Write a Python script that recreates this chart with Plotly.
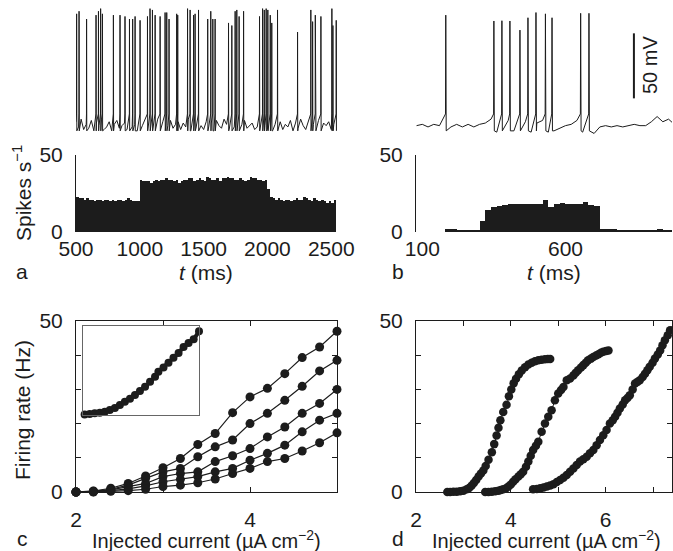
import plotly.graph_objects as go

W, H = 673, 551
FONT = "Liberation Sans, Arial, Helvetica, sans-serif"
INK = "#1c1c1c"

# ---- panel a: voltage trace (ms, mV) ----
trace_a_grid_t = list(range(500, 2541, 20))
trace_a_grid_v = [
    -64, -68, -62, -70, -66, -69, -63, -71, -65, -67, -62, -70, -68, -64, -71, -66, -63, -69, -67, -65,
    -70, -62, -68, -66, -71, -64, -67, -63, -69, -65, -70, -66, -62, -68, -64, -71, -67, -63, -69, -66,
    -64, -70, -65, -68, -62, -71, -66, -69, -63, -67, -70, -64, -68, -65, -71, -63, -67, -69, -62, -66,
    -70, -65, -68, -64, -71, -66, -63, -69, -67, -65, -70, -68, -66, -69, -67, -70, -68, -71, -66, -69,
    -64, -70, -66, -68, -63, -71, -65, -69, -62, -67, -70, -64, -68, -66, -71, -63, -69, -65, -67, -64,
    -70, -66, -68,
]
spikes_a_t = [505, 524, 583, 657, 676, 693, 707, 793, 845, 884, 919, 944, 963, 1002, 1060,
              1080, 1099, 1120, 1159, 1198, 1211, 1229, 1289, 1297, 1374, 1394, 1421, 1433,
              1460, 1532, 1556, 1572, 1590, 1695, 1721, 1747, 1760, 1778, 1813, 1938, 1962,
              1975, 1990, 2003, 2022, 2034, 2079, 2236, 2340, 2354, 2375, 2419, 2505, 2513, 2539]
spikes_a_peak = [19, 21, 15, 18, 21, 23, 19, 18, 18, 17, 15, 15, 17, 14, 17, 23, 22, 18, 17,
                 20, 20, 15, 19, 18, 23, 22, 18, 19, 22, 15, 21, 15, 15, 12, 10, 21, 22, 17,
                 21, 17, 23, 22, 23, 22, 18, 12, 22, 5, 22, 13, 18, 17, 23, 10, 14]

# ---- panel b: voltage trace ----
trace_b_grid_t = list(range(80, 981, 20))
trace_b_grid_v = [
    -67, -66, -68, -66, -67, -65, -68, -66, -68, -66,
    -68, -66, -65, -62, -72, -65, -63, -71, -65, -64,
    -72, -65, -63, -72, -71, -69, -67, -66, -63, -72,
    -65, -73, -68, -67, -68, -67, -68, -67, -66, -67,
    -67, -64, -60, -64, -62, -66,
]
spikes_b_t = [182, 350, 378, 406, 441, 469, 497, 530, 553, 653, 682]
spikes_b_peak = [18, 13.5, 13.7, 13.5, 6.5, 16, 20, 19, 16, 19.4, 19.4]

# ---- histograms (20 ms bins, spikes/s) ----
hist_a_start = list(range(500, 2540, 20))
hist_a_rate = [
    23, 22, 22, 21, 22, 21, 21, 20, 21, 21, 20, 21, 21, 20, 21, 20, 21, 21, 20, 21, 22, 21, 20, 20, 20,
    34, 33, 33, 33, 32, 33, 34, 33, 34, 34, 35, 34, 34, 33, 34, 32, 33, 34, 34, 35, 35, 33, 34, 35, 34,
    33, 36, 35, 34, 34, 35, 33, 35, 35, 36, 35, 35, 34, 34, 35, 34, 33, 34, 36, 35, 35, 34, 34, 33, 34,
    28, 23, 22, 21, 22, 21, 20, 21, 21, 20, 21, 22, 21, 21, 23, 22, 21, 20, 22, 21, 20, 21, 20, 19, 20,
    19, 21,
]
hist_b_start = list(range(80, 980, 20))
hist_b_rate = [
    0, 0, 0, 0, 0, 1.7, 1.7, 1.5, 1.2, 1.1, 1.1,
    7, 14, 16.5, 17, 17.5, 18, 18.5, 18.5, 18, 18, 18.5, 20.5, 16.5, 18.5, 19, 18.5, 18.5, 18, 19.5, 17.5, 17,
    2, 1.8, 1.7, 1.5, 1.3, 1.3, 1.2, 1.3, 1.5, 1.2, 2, 1.3, 1,
]

# ---- panel c: f-I curves ----
current_c = [2.0, 2.2, 2.4, 2.6, 2.8, 3.0, 3.2, 3.4, 3.6, 3.8, 4.0, 4.2, 4.4, 4.6, 4.8, 5.0]
rate_c1 = [0, 0.3, 1.1, 2.5, 4.7, 7.1, 9.8, 13.9, 17.1, 23.2, 27.8, 30.3, 34.6, 39.3, 42.4, 47.0]
rate_c2 = [0, 0.2, 0.8, 2.0, 4.0, 5.9, 6.9, 10.3, 13.2, 15.2, 20.0, 23.0, 26.8, 30.9, 35.4, 38.5]
rate_c3 = [0, 0.1, 0.6, 1.6, 2.5, 4.5, 5.4, 5.9, 8.9, 10.6, 12.7, 16.1, 19.0, 23.0, 25.9, 30.0]
rate_c4 = [0, 0.1, 0.4, 0.9, 1.8, 3.0, 3.7, 4.5, 5.9, 6.9, 9.3, 11.3, 13.7, 17.6, 21.0, 23.0]
rate_c5 = [0, 0, 0.2, 0.4, 0.8, 1.6, 2.0, 2.7, 3.8, 5.4, 6.9, 8.9, 9.8, 12.0, 14.4, 17.3]

# inset (normalised units)
inset_x = [0.014, 0.058, 0.101, 0.145, 0.188, 0.231, 0.275, 0.318, 0.361, 0.405, 0.448, 0.491,
           0.535, 0.578, 0.621, 0.650, 0.694, 0.737, 0.780, 0.824, 0.867, 0.910, 0.954, 1.0]
inset_y = [0.007, 0.011, 0.019, 0.026, 0.037, 0.056, 0.078, 0.112, 0.149, 0.183, 0.224, 0.269,
           0.317, 0.373, 0.429, 0.485, 0.534, 0.586, 0.642, 0.698, 0.765, 0.810, 0.851, 0.940]

# ---- panel d ----
current_d1 = [2.66, 2.72, 2.79, 2.86, 2.93, 3.00, 3.07, 3.12, 3.17, 3.22, 3.27, 3.32, 3.37, 3.42,
              3.47, 3.53, 3.60, 3.65, 3.70, 3.74, 3.78, 3.84, 3.91, 3.96, 4.01, 4.06, 4.11, 4.17,
              4.23, 4.30, 4.37, 4.44, 4.51, 4.58, 4.65, 4.72, 4.78, 4.83]
rate_d1 = [0, 0, 0.1, 0.1, 0.2, 0.4, 0.8, 1.2, 1.8, 2.6, 3.5, 4.5, 5.4, 6.3,
           7.6, 9.4, 11.6, 14.0, 16.5, 18.8, 21.0, 23.4, 25.5, 28.0, 30.0, 31.8, 33.1, 34.4,
           35.5, 36.5, 37.3, 37.8, 38.2, 38.5, 38.7, 38.8, 38.9, 38.9]
current_d2 = [3.46, 3.53, 3.60, 3.67, 3.74, 3.79, 3.84, 3.90, 3.95, 4.00, 4.05, 4.10, 4.16, 4.21,
              4.26, 4.32, 4.37, 4.42, 4.47, 4.53, 4.58, 4.65, 4.72, 4.79, 4.86, 4.93, 5.00, 5.06,
              5.11, 5.18, 5.25, 5.32, 5.37, 5.42, 5.48, 5.53, 5.58, 5.63, 5.69, 5.74, 5.80, 5.85,
              5.90, 5.95, 6.01, 6.06]
rate_d2 = [0, 0, 0.1, 0.2, 0.4, 0.6, 0.8, 1.1, 1.6, 2.2, 3.0, 3.7, 4.5, 5.2,
           5.9, 7.4, 8.9, 10.6, 12.3, 13.5, 14.7, 17.6, 20.0, 22.0, 23.9, 26.8, 28.8, 29.8,
           30.7, 32.7, 33.2, 34.1, 34.9, 35.6, 36.4, 37.1, 37.8, 38.5, 39.0, 39.5, 39.9, 40.3,
           40.7, 41.0, 41.2, 41.4]
current_d3 = [4.47, 4.55, 4.62, 4.69, 4.76, 4.83, 4.90, 4.97, 5.04, 5.11, 5.18, 5.25, 5.32, 5.39,
              5.46, 5.53, 5.60, 5.67, 5.74, 5.81, 5.88, 5.95, 6.02, 6.09, 6.15, 6.20, 6.25, 6.30,
              6.36, 6.41, 6.46, 6.51, 6.57, 6.62, 6.67, 6.72, 6.78, 6.83, 6.88, 6.93, 6.99, 7.04,
              7.10, 7.15, 7.20, 7.25, 7.31, 7.36, 7.43]
rate_d3 = [0.8, 0.9, 1.1, 1.3, 1.6, 1.9, 2.3, 2.9, 3.5, 4.2, 5.0, 5.9, 6.9, 7.9,
           8.9, 9.6, 10.3, 11.3, 12.3, 13.7, 15.2, 16.6, 18.1, 20.0, 21.0, 22.0, 23.2, 24.4,
           25.6, 26.8, 27.5, 28.3, 30.0, 31.7, 32.2, 32.7, 33.6, 34.6, 35.6, 36.6, 37.8, 39.0,
           40.2, 41.4, 42.9, 44.4, 45.8, 47.3, 49.2]

SPIKE_ONSET = -58
SPIKE_RESET = -71
SCALE_BAR_T = 839
SCALE_BAR_BOTTOM = -46
SCALE_BAR_MV = 50


def px(x):
    return x / W


def py(y):
    return 1 - y / H


def build_trace(grid_t, grid_v, spike_t, spike_v):
    pts = [(t, v) for t, v in zip(grid_t, grid_v) if all(abs(t - s) > 2.5 for s in spike_t)]
    for s, v in zip(spike_t, spike_v):
        pts += [(s - 1.0, SPIKE_ONSET), (s, v), (s + 1.5, SPIKE_RESET)]
    pts.sort()
    return [p[0] for p in pts], [p[1] for p in pts]


fig = go.Figure()

ta, va = build_trace(trace_a_grid_t, trace_a_grid_v, spikes_a_t, spikes_a_peak)
tb, vb = build_trace(trace_b_grid_t, trace_b_grid_v, spikes_b_t, spikes_b_peak)
fig.add_trace(go.Scatter(x=ta, y=va, mode="lines", line=dict(color=INK, width=1), xaxis="x", yaxis="y"))
fig.add_trace(go.Scatter(x=tb, y=vb, mode="lines", line=dict(color=INK, width=1), xaxis="x2", yaxis="y2"))

fig.add_trace(go.Bar(x=[s + 10 for s in hist_a_start], y=hist_a_rate, width=20,
                     marker=dict(color=INK, line=dict(width=0)), xaxis="x3", yaxis="y3"))
fig.add_trace(go.Bar(x=[s + 10 for s in hist_b_start], y=hist_b_rate, width=20,
                     marker=dict(color=INK, line=dict(width=0)), xaxis="x4", yaxis="y4"))

for rates in [rate_c1, rate_c2, rate_c3, rate_c4, rate_c5]:
    fig.add_trace(go.Scatter(x=current_c, y=rates, mode="lines+markers", cliponaxis=False,
                             line=dict(color=INK, width=1.2), marker=dict(color=INK, size=9),
                             xaxis="x5", yaxis="y5"))

for xs, ys in [(current_d1, rate_d1), (current_d2, rate_d2), (current_d3, rate_d3)]:
    fig.add_trace(go.Scatter(x=xs, y=ys, mode="lines+markers", cliponaxis=False,
                             line=dict(color=INK, width=1), marker=dict(color=INK, size=8.5),
                             xaxis="x6", yaxis="y6"))

fig.add_trace(go.Scatter(x=inset_x, y=inset_y, mode="lines+markers", cliponaxis=False,
                         line=dict(color=INK, width=4), marker=dict(color=INK, size=8),
                         xaxis="x7", yaxis="y7"))

hidden = dict(visible=False)
frame = dict(showline=True, linecolor=INK, linewidth=1, showgrid=False, zeroline=False,
             ticks="inside", ticklen=5, tickcolor=INK)
bare_x = dict(ticks="", showline=False, showgrid=False, zeroline=False, ticklabelstandoff=2)
box = dict(showline=True, mirror=True, linecolor="#666", linewidth=1, showgrid=False,
           zeroline=False, showticklabels=False, ticks="", range=[0, 1])
trace_rows = [py(138), py(5)]
hist_rows = [py(232), py(155)]
fi_rows = [py(492), py(321)]
left_cols = [px(76), px(337)]
right_cols = [px(416), px(672)]
ticks_50 = [0, 10, 20, 30, 40, 50]
text_50 = ["0", "", "", "", "", "50"]

fig.update_layout(
    width=W, height=H, margin=dict(l=0, r=0, t=0, b=0, autoexpand=False), autosize=False,
    paper_bgcolor="white", plot_bgcolor="rgba(0,0,0,0)", showlegend=False, bargap=0,
    font=dict(family=FONT, size=21, color=INK),
    xaxis=dict(domain=left_cols, range=[500, 2545], anchor="y", **hidden),
    yaxis=dict(domain=trace_rows, range=[-76.5, 25.8], anchor="x", **hidden),
    xaxis2=dict(domain=right_cols, range=[78, 972], anchor="y2", **hidden),
    yaxis2=dict(domain=trace_rows, range=[-76.5, 25.8], anchor="x2", **hidden),
    xaxis3=dict(domain=left_cols, range=[500, 2545], tickvals=[500, 1000, 1500, 2000, 2500],
                anchor="y3", **bare_x),
    yaxis3=dict(domain=hist_rows, range=[0, 50], tickvals=[0, 50], anchor="x3",
                ticklabelstandoff=8, **frame),
    xaxis4=dict(domain=right_cols, range=[78, 972], tickvals=[100, 600], anchor="y4", **bare_x),
    yaxis4=dict(domain=hist_rows, range=[0, 50], tickvals=[0, 50], anchor="x4",
                ticklabelstandoff=8, **frame),
    xaxis5=dict(domain=left_cols, range=[2, 5], tickvals=[2, 3, 4, 5], ticktext=["2", "", "4", ""],
                anchor="y5", mirror="ticks", ticklabelstandoff=9, **frame),
    yaxis5=dict(domain=fi_rows, range=[0, 50], tickvals=ticks_50, ticktext=text_50,
                anchor="x5", mirror="ticks", ticklabelstandoff=8, **frame),
    xaxis6=dict(domain=right_cols, range=[2, 7.4], tickvals=[2, 3, 4, 5, 6, 7],
                ticktext=["2", "", "4", "", "6", ""], anchor="y6", mirror="ticks",
                ticklabelstandoff=9, **frame),
    yaxis6=dict(domain=fi_rows, range=[0, 50], tickvals=ticks_50, ticktext=text_50,
                anchor="x6", mirror="ticks", ticklabelstandoff=8, **frame),
    xaxis7=dict(domain=[px(83), px(199)], anchor="y7", **box),
    yaxis7=dict(domain=[py(415), py(326)], anchor="x7", **box),
)

fig.add_shape(type="line", xref="x2", yref="y2", x0=SCALE_BAR_T, x1=SCALE_BAR_T,
              y0=SCALE_BAR_BOTTOM, y1=SCALE_BAR_BOTTOM + SCALE_BAR_MV, line=dict(color=INK, width=2))


def label(text, x, y, size=21, angle=0):
    fig.add_annotation(text=text, x=px(x), y=py(y), xref="paper", yref="paper", showarrow=False,
                       textangle=angle, font=dict(size=size, family=FONT, color=INK),
                       xanchor="center", yanchor="middle")


label("50 mV", 650, 65, size=20, angle=-90)
label("Spikes s<sup>−1</sup>", 22, 193, angle=-90)
label("Firing rate (Hz)", 22, 410, angle=-90)
label("<i>t</i> (ms)", 206, 272)
label("<i>t</i> (ms)", 554, 272)
label("Injected current (µA cm<sup>−2</sup>)", 206, 539, size=20)
label("Injected current (µA cm<sup>−2</sup>)", 546, 539, size=20)
label("a", 22, 271)
label("b", 398, 271)
label("c", 22, 538)
label("d", 398, 538)

# the page body has a default 8px margin; drop it so the figure sits at the window origin
fig.write_html("out.html", config={"displayModeBar": False},
               post_script="document.body.style.margin = '0px';")
